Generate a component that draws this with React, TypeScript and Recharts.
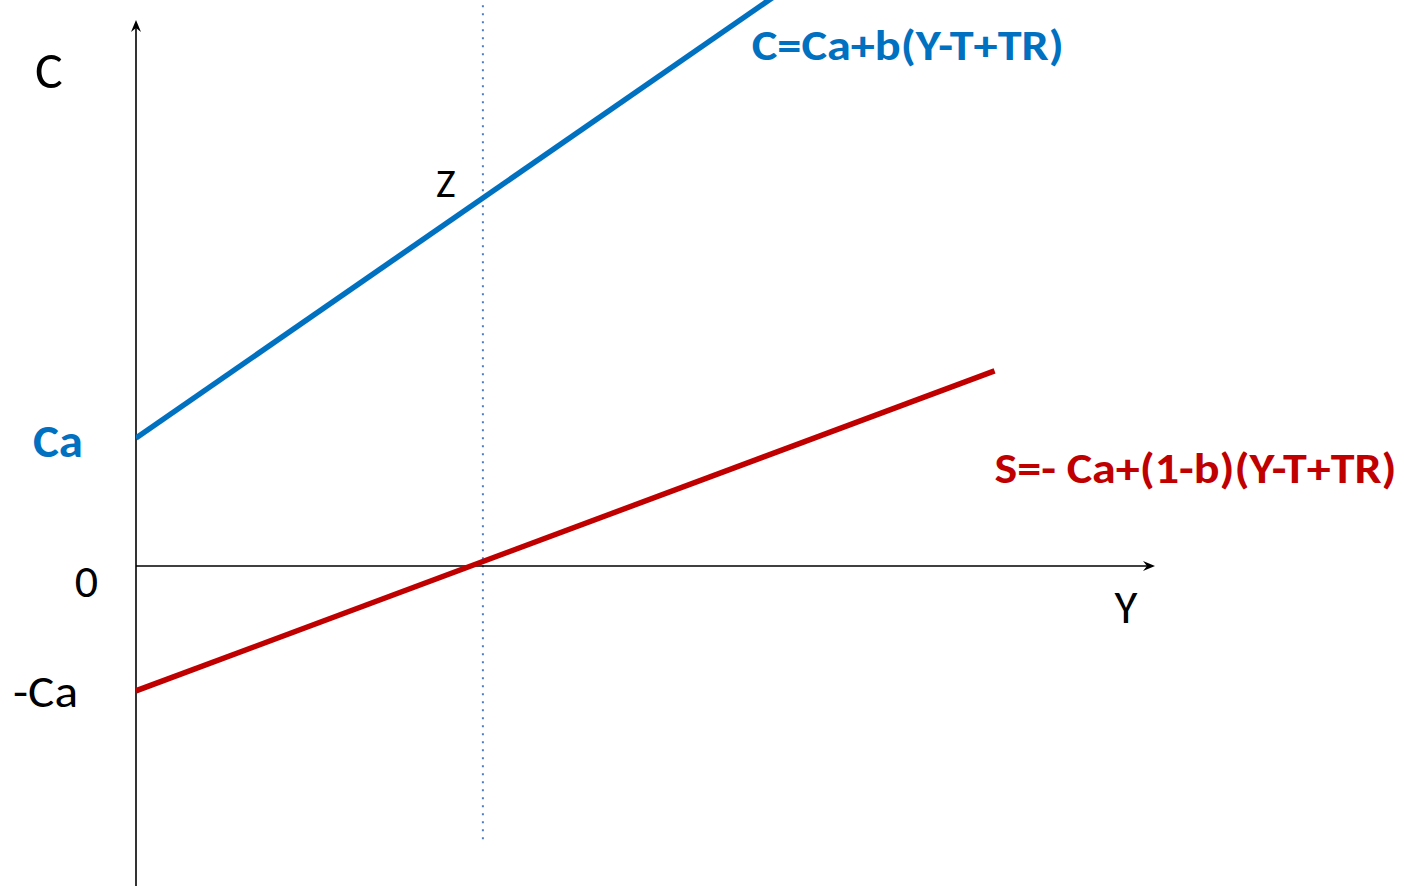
import React from 'react'
import {
  ComposedChart,
  Line,
  ReferenceDot,
  ReferenceLine,
  XAxis,
  YAxis,
} from 'recharts'

// Keynesian consumption / saving diagram.
// Horizontal axis: income Y, vertical axis: C (and S). Units are arbitrary.
const Y_MAX = 11.75
const C_MIN = -5
const C_MAX = 8.84375
const C_AXIS_TOP = 8.53

const CA = 2
const Y_Z = 4
const C_Z = 5.75

// consumption line C = Ca + b(Y-T+TR)
const blueY = [0, 8]
const blueC = [2, 9.5]
// saving line S = -Ca + (1-b)(Y-T+TR)
const redY = [0, 9.9]
const redC = [-1.95, 3.05]

// dotted guide through Z
const guideFrom = -4.27
const guideTo = 8.77

const blueData = blueY.map((y, i) => ({ y, c: blueC[i] }))
const redData = redY.map((y, i) => ({ y, c: redC[i] }))

const BLUE = '#0070C0'
const RED = '#C00000'
const FONT = "Carlito, 'Open Sans', sans-serif"

const ArrowLine = (p: any) => {
  const { x1, y1, x2, y2 } = p
  const a = Math.atan2(y2 - y1, x2 - x1)
  const pt = (along: number, side: number) => {
    const x = x2 + Math.cos(a) * along - Math.sin(a) * side
    const y = y2 + Math.sin(a) * along + Math.cos(a) * side
    return `${x},${y}`
  }
  return (
    <g>
      <line x1={x1} y1={y1} x2={x2 - Math.cos(a) * 6} y2={y2 - Math.sin(a) * 6} stroke="#000" strokeWidth={1.6} />
      <polygon points={[pt(0, 0), pt(-12, -5), pt(-8, 0), pt(-12, 5)].join(' ')} fill="#000" />
    </g>
  )
}

const label = (
  text: string,
  opts: { dx: number; dy: number; anchor?: string; size: number; bold?: boolean; color?: string; len?: number },
) => (p: any) => (
  <text
    x={p.cx + opts.dx}
    y={p.cy + opts.dy}
    textAnchor={opts.anchor ?? 'middle'}
    fontFamily={FONT}
    fontSize={opts.size}
    fontWeight={opts.bold ? 700 : 400}
    fill={opts.color ?? '#000'}
    textLength={opts.len}
    lengthAdjust={opts.len ? 'spacingAndGlyphs' : undefined}
  >
    {text}
  </text>
)

export default function App() {
  return (
    <div style={{ position: 'absolute', left: 0, top: 0, width: 1404, height: 886, background: '#fff' }}>
      <ComposedChart width={1404} height={886} margin={{ top: 0, right: 249, bottom: 0, left: 136 }}>
        <XAxis type="number" dataKey="y" domain={[0, Y_MAX]} hide allowDataOverflow />
        <YAxis type="number" domain={[C_MIN, C_MAX]} hide allowDataOverflow />

        <ReferenceLine
          segment={[{ x: Y_Z, y: guideFrom }, { x: Y_Z, y: guideTo }]}
          stroke="#4F7CC0"
          strokeWidth={2}
          strokeDasharray="2 6"
        />
        <ReferenceLine segment={[{ x: 0, y: C_MIN }, { x: 0, y: C_AXIS_TOP }]} shape={ArrowLine} />
        <ReferenceLine segment={[{ x: 0, y: 0 }, { x: Y_MAX, y: 0 }]} shape={ArrowLine} />

        <Line data={blueData} dataKey="c" type="linear" stroke={BLUE} strokeWidth={5.5} dot={false} isAnimationActive={false} />
        <Line data={redData} dataKey="c" type="linear" stroke={RED} strokeWidth={5.5} dot={false} isAnimationActive={false} />

        <ReferenceDot x={0} y={C_AXIS_TOP} r={0} ifOverflow="visible" shape={label('C', { dx: -101, dy: 68, anchor: 'start', size: 52 })} />
        <ReferenceDot x={0} y={CA} r={0} ifOverflow="visible" shape={label('Ca', { dx: -53, dy: 19, anchor: 'end', size: 46, bold: true, color: BLUE, len: 50 })} />
        <ReferenceDot x={0} y={0} r={0} ifOverflow="visible" shape={label('0', { dx: -38, dy: 31, anchor: 'end', size: 46 })} />
        <ReferenceDot x={0} y={-CA} r={0} ifOverflow="visible" shape={label('-Ca', { dx: -58, dy: 13, anchor: 'end', size: 46, len: 65 })} />
        <ReferenceDot x={Y_MAX} y={0} r={0} ifOverflow="visible" shape={label('Y', { dx: -29, dy: 57, size: 47 })} />
        <ReferenceDot x={Y_Z} y={C_Z} r={0} ifOverflow="visible" shape={label('Z', { dx: -37, dy: -1, size: 42 })} />
        <ReferenceDot x={blueY[1]} y={blueC[1]} r={0} ifOverflow="visible" shape={label('C=Ca+b(Y-T+TR)', { dx: -78, dy: 102, anchor: 'start', size: 42, bold: true, color: BLUE, len: 312 })} />
        <ReferenceDot x={redY[1]} y={redC[1]} r={0} ifOverflow="visible" shape={label('S=- Ca+(1-b)(Y-T+TR)', { dx: 0, dy: 112, anchor: 'start', size: 42, bold: true, color: RED, len: 402 })} />
      </ComposedChart>
    </div>
  )
}
